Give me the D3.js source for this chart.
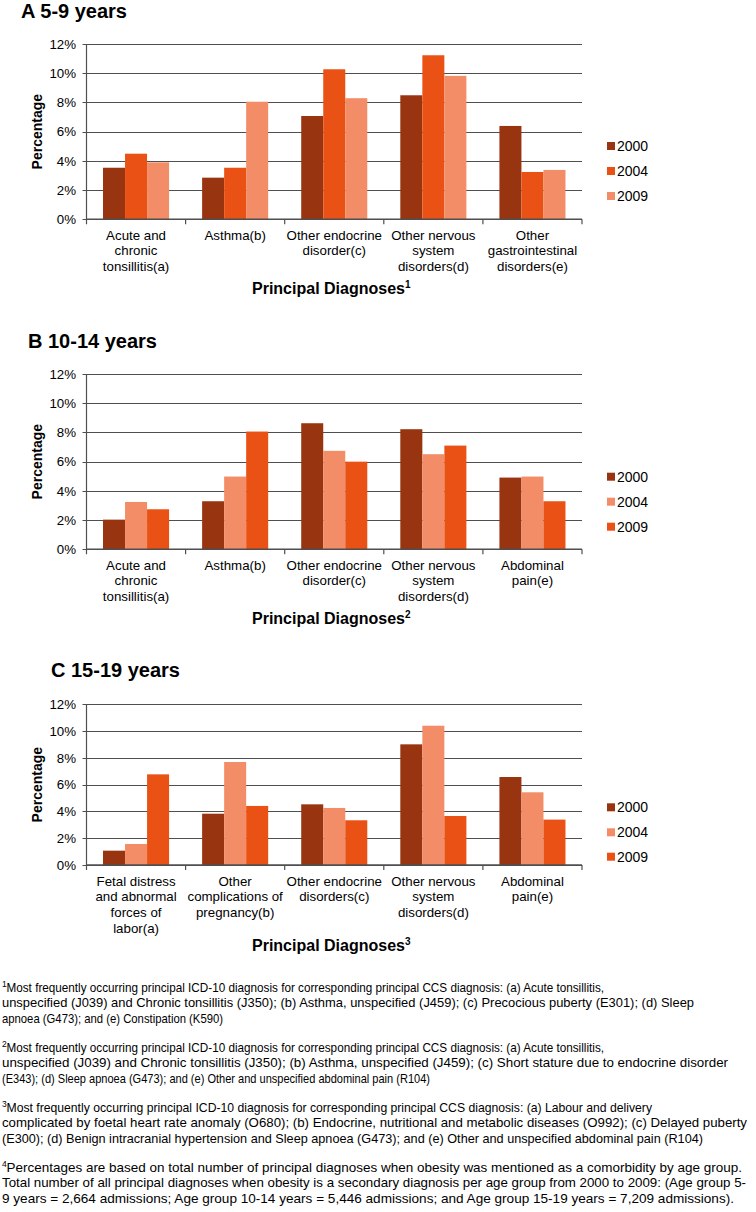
<!DOCTYPE html>
<html><head><meta charset="utf-8">
<script src="https://cdn.jsdelivr.net/npm/d3@7"></script>
<style>body{margin:0;background:#fff}svg{display:block}</style>
</head><body><script>
// ---------------- DATA ----------------
const years = ["2000", "2004", "2009"];
const yTicks = [0, 2, 4, 6, 8, 10, 12];

const catsA = ["Acute and\nchronic\ntonsillitis(a)", "Asthma(b)", "Other endocrine\ndisorder(c)", "Other nervous\nsystem\ndisorders(d)", "Other\ngastrointestinal\ndisorders(e)"];
const a2000 = [3.53, 2.85, 7.07, 8.49, 6.39];
const a2004 = [4.49, 3.53, 10.27, 11.23, 3.24];
const a2009 = [3.90, 8.05, 8.29, 9.82, 3.38];

const catsB = ["Acute and\nchronic\ntonsillitis(a)", "Asthma(b)", "Other endocrine\ndisorder(c)", "Other nervous\nsystem\ndisorders(d)", "Abdominal\npain(e)"];
const b2000 = [2.03, 3.29, 8.63, 8.22, 4.91];
const b2004 = [3.24, 4.98, 6.74, 6.51, 4.98];
const b2009 = [2.74, 8.06, 6.00, 7.10, 3.29];

const catsC = ["Fetal distress\nand abnormal\nforces of\nlabor(a)", "Other\ncomplications of\npregnancy(b)", "Other endocrine\ndisorders(c)", "Other nervous\nsystem\ndisorders(d)", "Abdominal\npain(e)"];
const c2000 = [1.07, 3.83, 4.53, 9.01, 6.57];
const c2004 = [1.57, 7.69, 4.26, 10.40, 5.43];
const c2009 = [6.77, 4.41, 3.34, 3.66, 3.39];

const titles = ["A 5-9 years", "B 10-14 years", "C 15-19 years"];
const xTitle = "Principal Diagnoses";
const yTitle = "Percentage";

const footnotes = [
  ["1", ["Most frequently occurring principal ICD-10 diagnosis for corresponding principal CCS diagnosis: (a) Acute tonsillitis,",
         "unspecified (J039) and Chronic tonsillitis (J350); (b) Asthma, unspecified (J459); (c) Precocious puberty (E301); (d) Sleep",
         "apnoea (G473); and (e) Constipation (K590)"]],
  ["2", ["Most frequently occurring principal ICD-10 diagnosis for corresponding principal CCS diagnosis: (a) Acute tonsillitis,",
         "unspecified (J039) and Chronic tonsillitis (J350); (b) Asthma, unspecified (J459); (c) Short stature due to endocrine disorder",
         "(E343); (d) Sleep apnoea (G473); and (e) Other and unspecified abdominal pain (R104)"]],
  ["3", ["Most frequently occurring principal ICD-10 diagnosis for corresponding principal CCS diagnosis: (a) Labour and delivery",
         "complicated by foetal heart rate anomaly (O680); (b) Endocrine, nutritional and metabolic diseases (O992); (c) Delayed puberty",
         "(E300); (d) Benign intracranial hypertension and Sleep apnoea (G473); and (e) Other and unspecified abdominal pain (R104)"]],
  ["4", ["Percentages are based on total number of principal diagnoses when obesity was mentioned as a comorbidity by age group.",
         "Total number of all principal diagnoses when obesity is a secondary diagnosis per age group from 2000 to 2009: (Age group 5-",
         "9 years = 2,664 admissions; Age group 10-14 years = 5,446 admissions; and Age group 15-19 years = 7,209 admissions)."]]
];

// ---------------- STYLE / LAYOUT ----------------
const DARK = "#983410", ORANGE = "#ea5215", SALMON = "#f38d67";
const FONT = "'Liberation Sans', Arial, sans-serif";
const NARROW = "'Liberation Sans Narrow', 'Arial Narrow', 'Liberation Sans', Arial, sans-serif";
const GRID = "#4f4f4f";

const svg = d3.select("body").append("svg").attr("width", 756).attr("height", 1212)
  .style("font-family", FONT);

const panels = [
  {cats: catsA, vals: [a2000, a2004, a2009], colors: [DARK, ORANGE, SALMON], y0: 219.3, y12: 44,
   title: titles[0], tx: 21, ty: 18, sup: "1", xTitleY: 294, legY: [146, 171, 196]},
  {cats: catsB, vals: [b2000, b2004, b2009], colors: [DARK, SALMON, ORANGE], y0: 549.3, y12: 374,
   title: titles[1], tx: 28, ty: 347.5, sup: "2", xTitleY: 624, legY: [476.7, 501.7, 526.7]},
  {cats: catsC, vals: [c2000, c2004, c2009], colors: [DARK, SALMON, ORANGE], y0: 865, y12: 704.3,
   title: titles[2], tx: 51, ty: 676.5, sup: "3", xTitleY: 951, legY: [807.3, 832.3, 856.7]}
];

const X0 = 86.5, X1 = 582;

panels.forEach(p => {
  const g = svg.append("g");
  const x = d3.scaleBand().domain(p.cats).range([X0, X1]).padding(0);
  const bw = x.bandwidth();
  const xs = d3.scaleBand().domain(years).range([bw / 6, bw * 5 / 6]).padding(0);
  const y = d3.scaleLinear().domain([0, 12]).range([p.y0, p.y12]);

  // title
  g.append("text").attr("x", p.tx).attr("y", p.ty).attr("font-size", 20).attr("font-weight", "bold")
    .attr("fill", "#000").text(p.title);

  // gridlines
  g.append("g").selectAll("line").data(yTicks).join("line")
    .attr("x1", X0 - 4).attr("x2", X1)
    .attr("y1", d => Math.round(y(d)) + 0.5).attr("y2", d => Math.round(y(d)) + 0.5)
    .attr("stroke", GRID).attr("stroke-width", 1.1);

  // y axis labels
  const ya = g.append("g").attr("transform", `translate(${X0},0)`)
    .call(d3.axisLeft(y).tickValues(yTicks).tickFormat(d => d + "%").tickSize(0).tickPadding(10.5));
  ya.select(".domain").remove();
  ya.selectAll("text").attr("font-size", 13.3).attr("font-family", FONT).attr("fill", "#000");

  // bars
  years.forEach((yr, si) => {
    g.append("g").selectAll("rect").data(p.cats.map((c, i) => ({c, v: p.vals[si][i]}))).join("rect")
      .attr("x", d => x(d.c) + xs(yr)).attr("width", xs.bandwidth())
      .attr("y", d => y(d.v)).attr("height", d => y(0) - y(d.v))
      .attr("fill", p.colors[si]);
  });

  // y axis line
  g.append("line").attr("x1", X0).attr("x2", X0).attr("y1", y(12)).attr("y2", y(0))
    .attr("stroke", GRID).attr("stroke-width", 1.2);
  // x axis line and boundary ticks
  g.append("line").attr("x1", X0).attr("x2", X1).attr("y1", y(0)).attr("y2", y(0))
    .attr("stroke", GRID).attr("stroke-width", 1.4);
  const bounds = p.cats.map(c => x(c)).concat([X1]);
  g.append("g").selectAll("line").data(bounds).join("line")
    .attr("x1", d => d).attr("x2", d => d).attr("y1", y(0)).attr("y2", y(0) + 5)
    .attr("stroke", GRID).attr("stroke-width", 1.2);

  // category labels via axis
  const xa = g.append("g").attr("transform", `translate(0,${y(0)})`)
    .call(d3.axisBottom(x).tickSize(0));
  xa.select(".domain").remove();
  xa.selectAll("text").each(function (d) {
    const t = d3.select(this).text(null).attr("y", 20.5).attr("dy", null)
      .attr("font-size", 13.3).attr("font-family", FONT).attr("fill", "#000");
    d.split("\n").forEach((line, i) => {
      t.append("tspan").attr("x", 0).attr("y", 20.5 + i * 15.7).text(line);
    });
  });

  // axis titles
  const xt = g.append("text").attr("x", (X0 + X1) / 2 - 3).attr("y", p.xTitleY)
    .attr("text-anchor", "middle").attr("font-size", 16).attr("font-weight", "bold").attr("fill", "#000");
  xt.append("tspan").text(xTitle);
  xt.append("tspan").attr("font-size", 10).attr("dy", -6).text(p.sup);

  g.append("text").attr("transform", `translate(41.5,${(y(0) + y(12)) / 2}) rotate(-90)`)
    .attr("text-anchor", "middle").attr("font-size", 14).attr("font-weight", "bold").attr("fill", "#000")
    .text(yTitle);

  // legend
  const lg = g.append("g").selectAll("g").data(years).join("g")
    .attr("transform", (d, i) => `translate(607,${p.legY[i]})`);
  lg.append("rect").attr("x", 0).attr("y", -4).attr("width", 8).attr("height", 8)
    .attr("fill", (d, i) => p.colors[i]);
  lg.append("text").attr("x", 10).attr("y", 0).attr("dy", "0.36em").attr("font-size", 14)
    .attr("fill", "#000").text(d => d);
});

// footnotes
const fnBase = [991.5, 1051.5, 1111.5, 1171.5];
const fnEnds = [[604, 694, 223], [604, 728, 430], [652, 747, 703], [742, 746, 734]];
footnotes.forEach((fn, k) => {
  const [sup, lines] = fn;
  svg.append("text").attr("x", 2).attr("y", fnBase[k] - 5).attr("font-size", 8.5)
    .attr("font-family", NARROW).attr("fill", "#000").text(sup);
  lines.forEach((ln, i) => {
    const x0 = i === 0 ? 6.5 : 2;
    svg.append("text").attr("x", x0).attr("y", fnBase[k] + i * 15.7)
      .attr("font-size", 13).attr("font-family", NARROW).attr("fill", "#000")
      .attr("textLength", fnEnds[k][i] - x0).attr("lengthAdjust", "spacingAndGlyphs")
      .text(ln);
  });
});
</script></body></html>
